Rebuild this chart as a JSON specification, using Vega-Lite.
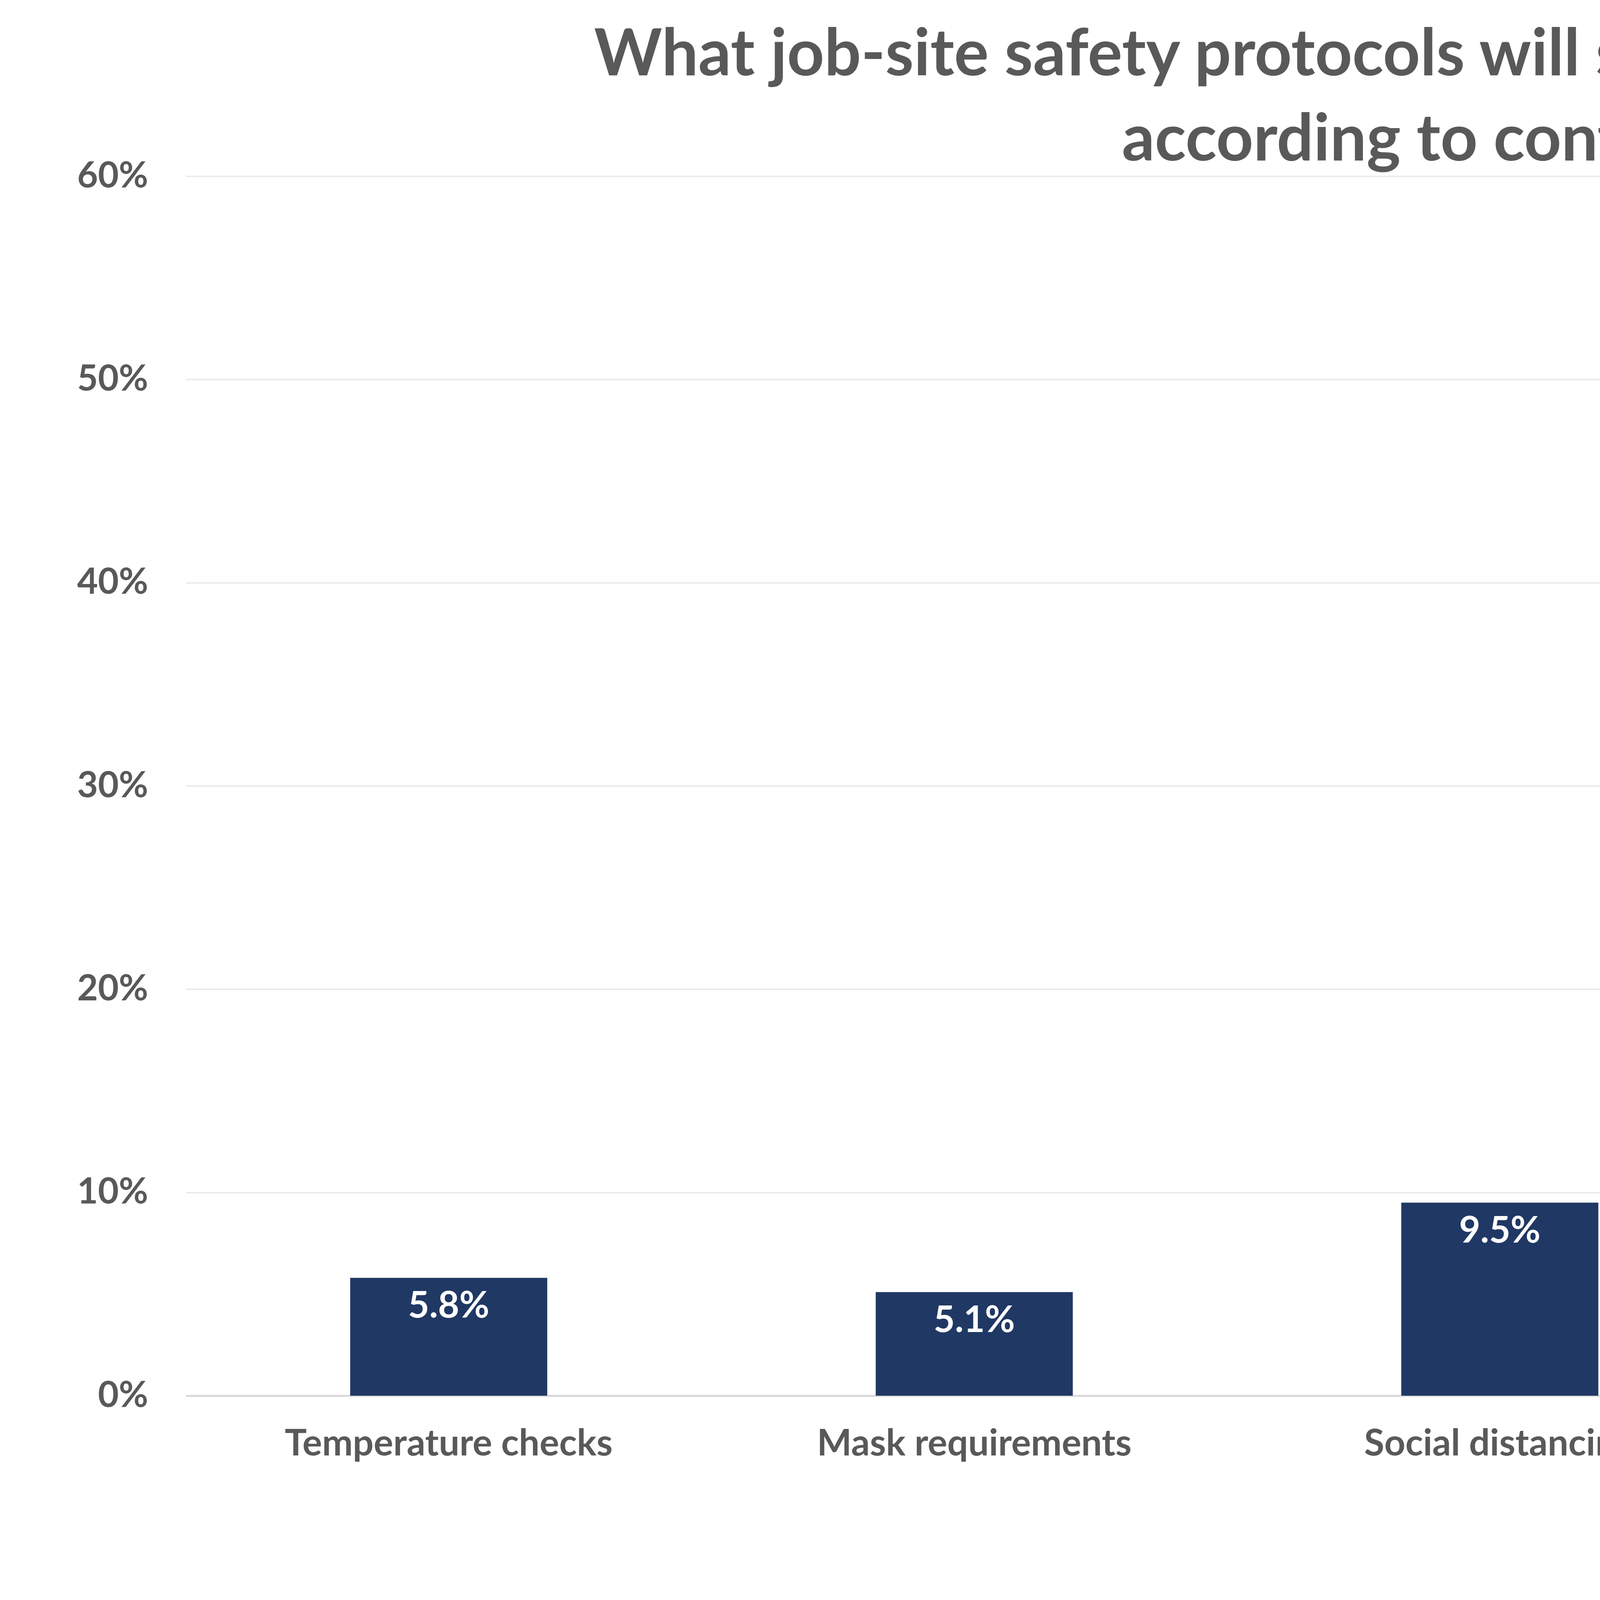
{
  "$schema": "https://vega.github.io/schema/vega-lite/v6.json",
  "autosize": {"type": "none"},
  "padding": {"left": 476, "top": 451, "right": 297, "bottom": 542},
  "width": 6727,
  "height": 3122,
  "background": "white",
  "title": {
    "text": ["What job-site safety protocols will still be in place in five years", "according to contractors?"],
    "font": "Lato",
    "fontSize": 166,
    "fontWeight": "bold",
    "color": "#595959",
    "lineHeight": 218,
    "anchor": "middle",
    "dx": -33,
    "offset": -41
  },
  "data": {
    "values": [
      {"protocol": "Temperature checks", "share": 0.058},
      {"protocol": "Mask requirements", "share": 0.051},
      {"protocol": "Social distancing", "share": 0.095},
      {"protocol": "Hand washing and other hygienic procedures", "share": 0.562},
      {"protocol": "None of the above", "share": 0.416}
    ]
  },
  "config": {
    "view": {"stroke": null},
    "font": "Lato"
  },
  "encoding": {
    "x": {
      "field": "protocol",
      "type": "nominal",
      "sort": null,
      "title": null,
      "scale": {"paddingInner": 0.625, "paddingOuter": 0.3125},
      "axis": {
        "labelAngle": 0,
        "labelFontSize": 94,
        "labelFontWeight": "bold",
        "labelColor": "#595959",
        "labelPadding": 78,
        "labelLineHeight": 126,
        "labelLimit": 2000,
        "labelExpr": "datum.label == 'Hand washing and other hygienic procedures' ? ['Hand washing and other', 'hygienic procedures'] : datum.label",
        "ticks": false,
        "domain": true,
        "domainColor": "#D9D9D9",
        "domainWidth": 5,
        "grid": false
      }
    },
    "y": {
      "field": "share",
      "type": "quantitative",
      "title": null,
      "scale": {"domain": [0, 0.6], "nice": false},
      "axis": {
        "values": [0, 0.1, 0.2, 0.3, 0.4, 0.5, 0.6],
        "format": ".0%",
        "labelFontSize": 92,
        "labelFontWeight": "bold",
        "labelColor": "#595959",
        "labelPadding": 97,
        "labelLimit": 600,
        "ticks": false,
        "domain": false,
        "grid": true,
        "gridColor": "#EBEBEB",
        "gridWidth": 4
      }
    }
  },
  "layer": [
    {
      "mark": {"type": "bar", "color": "#203864"}
    },
    {
      "mark": {
        "type": "text",
        "color": "white",
        "fontSize": 94,
        "fontWeight": "bold",
        "baseline": "top",
        "dy": 28
      },
      "encoding": {
        "text": {"field": "share", "type": "quantitative", "format": ".1%"}
      }
    }
  ]
}
